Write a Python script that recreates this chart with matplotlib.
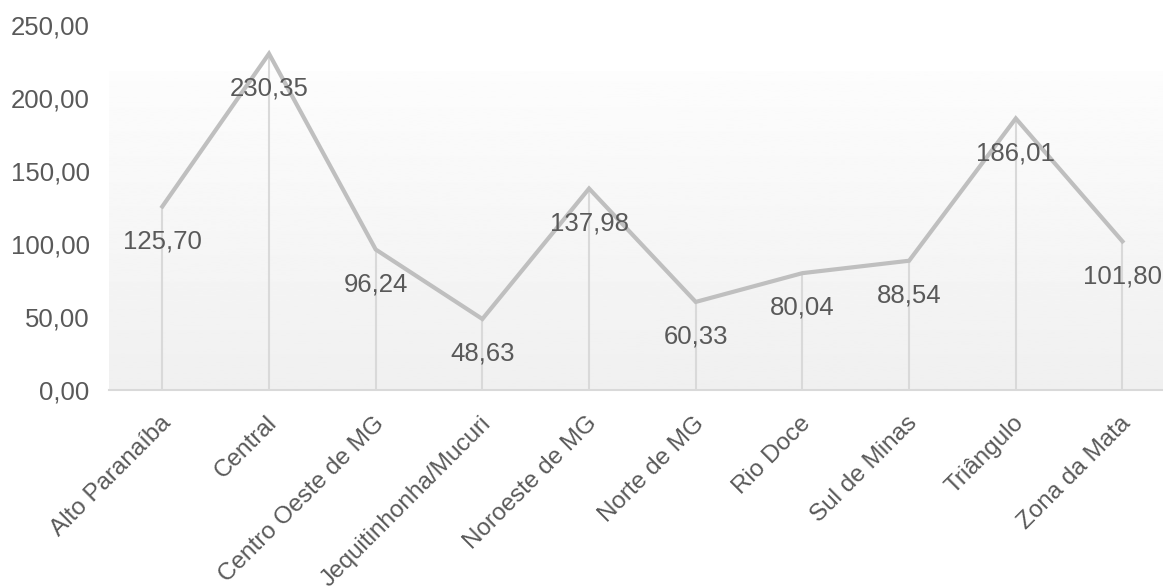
import numpy as np
import matplotlib
matplotlib.use("Agg")
import matplotlib.pyplot as plt
from matplotlib.transforms import ScaledTranslation

plt.rcParams['font.family'] = ['Liberation Sans', 'DejaVu Sans']

# data
regioes = ["Alto Paranaíba", "Central", "Centro Oeste de MG", "Jequitinhonha/Mucuri",
           "Noroeste de MG", "Norte de MG", "Rio Doce", "Sul de Minas",
           "Triângulo", "Zona da Mata"]
valores = [125.70, 230.35, 96.24, 48.63, 137.98, 60.33, 80.04, 88.54, 186.01, 101.80]
yticks = [0, 50, 100, 150, 200, 250]

txt = "#595959"
fs = 18.5

def br(v):
    return f"{v:.2f}".replace(".", ",")

fig = plt.figure(figsize=(11.63, 5.86), dpi=100)
ax = fig.add_axes([109/1163, 1 - 390/586, 1 - 109/1163, 365/586])

x = np.arange(len(regioes))
ax.set_xlim(-0.5, 9.38)
ax.set_ylim(0, 250)

# gradient plot area (only up to ~218, like the original)
grad = np.linspace(0.99, 0.94, 200).reshape(-1, 1)
ax.imshow(grad, cmap="gray", vmin=0, vmax=1, aspect="auto",
          extent=(-0.5, 9.38, 0, 218), origin="upper", zorder=0)

# drop lines
ax.vlines(x, 0, valores, colors="#d9d9d9", linewidth=1.5, zorder=1)
ax.plot(x, valores, color="#bfbfbf", linewidth=3, solid_joinstyle="miter", zorder=2)

for xi, v in zip(x, valores):
    ax.annotate(br(v), (xi, v), xytext=(0, -25), textcoords="offset points",
                ha="center", va="center", fontsize=fs, color=txt, zorder=3)

# category labels, rotated 45 deg, text ending at the category centre
ax.set_xticks(x)
ax.set_xticklabels([])
off = ax.get_xaxis_transform() + ScaledTranslation(0.05, -0.30, fig.dpi_scale_trans)
for xi, r in zip(x, regioes):
    ax.text(xi, 0, r, transform=off, rotation=45, rotation_mode="anchor",
            ha="right", va="center", fontsize=17.5, color=txt, clip_on=False)

ax.set_yticks(yticks)
ax.set_yticklabels([br(t) for t in yticks], fontsize=fs, color=txt)
ax.tick_params(length=0)
ax.tick_params(axis="y", pad=14)

for s in ["top", "right", "left"]:
    ax.spines[s].set_visible(False)
ax.spines["bottom"].set_color("#d9d9d9")
ax.spines["bottom"].set_linewidth(1.5)
ax.spines["bottom"].set_zorder(4)

fig.savefig("out.png", dpi=100)
